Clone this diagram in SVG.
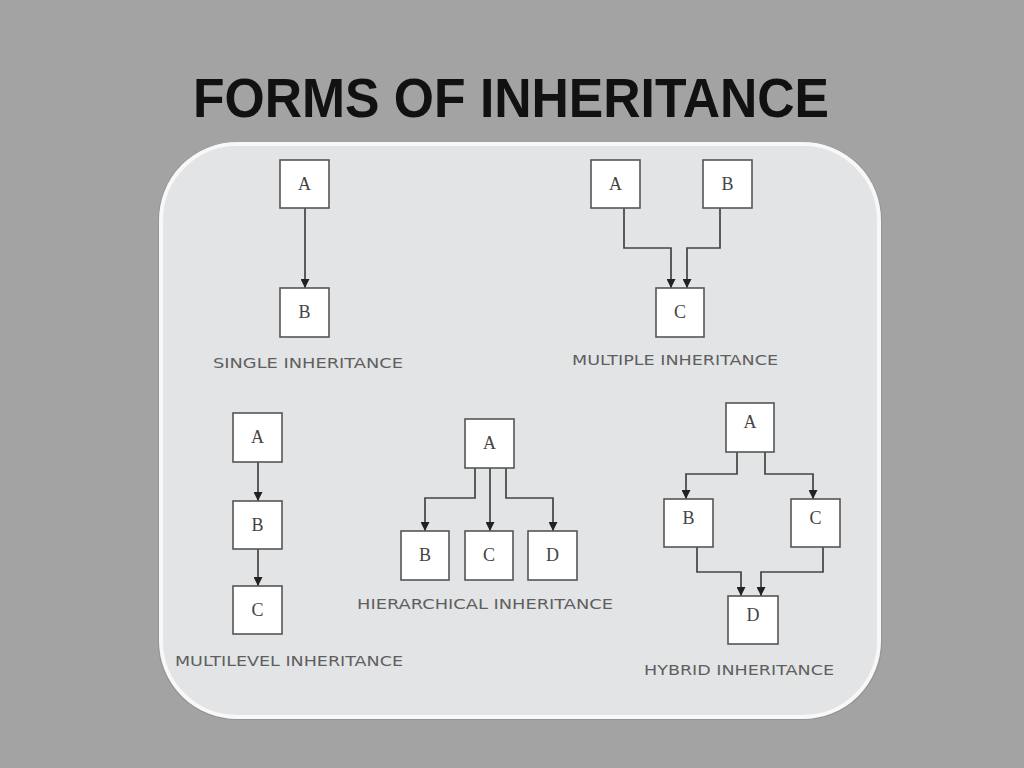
<svg xmlns="http://www.w3.org/2000/svg" width="1024" height="768" viewBox="0 0 1024 768">
<defs>
<style>
.bx{fill:#ffffff;stroke:#555;stroke-width:1.6}
.bt{font-family:"Liberation Serif","Times New Roman",serif;font-size:18px;fill:#444;text-anchor:middle}
.cn{fill:none;stroke:#444;stroke-width:1.7}
.lb{font-family:"DejaVu Sans",Verdana,sans-serif;font-size:14px;fill:#5f5f5f}
</style>
<marker id="ar" viewBox="0 0 10 10" refX="10" refY="5" markerWidth="9" markerHeight="9" markerUnits="userSpaceOnUse" orient="auto">
<path d="M0,0 L10,5 L0,10 z" fill="#222"/>
</marker>
</defs>
<rect x="0" y="0" width="1024" height="768" fill="#a3a3a3"/>
<text x="511" y="117" font-family="Liberation Sans, Arial, sans-serif" font-weight="bold" font-size="55" fill="#111" text-anchor="middle" textLength="636" lengthAdjust="spacingAndGlyphs">FORMS OF INHERITANCE</text>
<rect x="158" y="142" width="724" height="578" rx="78" ry="78" fill="#8a8a8a" opacity="0.6"/>
<rect x="161" y="144" width="718" height="573" rx="76" ry="76" fill="#e2e4e6" stroke="#f8f8f8" stroke-width="4"/>

<g id="connectors">
<path class="cn" d="M305,208 V288" marker-end="url(#ar)"/>
<path class="cn" d="M624,208 V248 H671 V288" marker-end="url(#ar)"/>
<path class="cn" d="M720,208 V248 H687 V288" marker-end="url(#ar)"/>
<path class="cn" d="M258,462 V501" marker-end="url(#ar)"/>
<path class="cn" d="M258,549 V586" marker-end="url(#ar)"/>
<path class="cn" d="M475,468 V498 H425 V531" marker-end="url(#ar)"/>
<path class="cn" d="M490,468 V531" marker-end="url(#ar)"/>
<path class="cn" d="M506,468 V498 H553 V531" marker-end="url(#ar)"/>
<path class="cn" d="M737,452 V474 H686 V499" marker-end="url(#ar)"/>
<path class="cn" d="M765,452 V474 H813 V499" marker-end="url(#ar)"/>
<path class="cn" d="M697,547 V572 H741 V596" marker-end="url(#ar)"/>
<path class="cn" d="M823,547 V572 H761 V596" marker-end="url(#ar)"/>
</g>

<g id="single-a"><rect class="bx" x="280" y="160" width="49" height="48"/><text class="bt" x="304.5" y="190">A</text></g>
<g id="single-b"><rect class="bx" x="280" y="288" width="49" height="49"/><text class="bt" x="304.5" y="318">B</text></g>
<text class="lb" x="213" y="368" textLength="190" lengthAdjust="spacingAndGlyphs">SINGLE INHERITANCE</text>

<g id="multiple-a"><rect class="bx" x="591" y="160" width="49" height="48"/><text class="bt" x="615.5" y="190">A</text></g>
<g id="multiple-b"><rect class="bx" x="703" y="160" width="49" height="48"/><text class="bt" x="727.5" y="190">B</text></g>
<g id="multiple-c"><rect class="bx" x="656" y="288" width="48" height="49"/><text class="bt" x="680" y="318">C</text></g>
<text class="lb" x="572" y="365" textLength="206" lengthAdjust="spacingAndGlyphs">MULTIPLE INHERITANCE</text>

<g id="multilevel-a"><rect class="bx" x="233" y="413" width="49" height="49"/><text class="bt" x="257.5" y="443">A</text></g>
<g id="multilevel-b"><rect class="bx" x="233" y="501" width="49" height="48"/><text class="bt" x="257.5" y="531">B</text></g>
<g id="multilevel-c"><rect class="bx" x="233" y="586" width="49" height="48"/><text class="bt" x="257.5" y="616">C</text></g>
<text class="lb" x="175" y="666" textLength="228" lengthAdjust="spacingAndGlyphs">MULTILEVEL INHERITANCE</text>

<g id="hier-a"><rect class="bx" x="465" y="419" width="49" height="49"/><text class="bt" x="489.5" y="449">A</text></g>
<g id="hier-b"><rect class="bx" x="401" y="531" width="48" height="49"/><text class="bt" x="425" y="561">B</text></g>
<g id="hier-c"><rect class="bx" x="465" y="531" width="48" height="49"/><text class="bt" x="489" y="561">C</text></g>
<g id="hier-d"><rect class="bx" x="528" y="531" width="49" height="49"/><text class="bt" x="552.5" y="561">D</text></g>
<text class="lb" x="357" y="609" textLength="256" lengthAdjust="spacingAndGlyphs">HIERARCHICAL INHERITANCE</text>

<g id="hybrid-a"><rect class="bx" x="726" y="403" width="48" height="49"/><text class="bt" x="750" y="428">A</text></g>
<g id="hybrid-b"><rect class="bx" x="664" y="499" width="49" height="48"/><text class="bt" x="688.5" y="524">B</text></g>
<g id="hybrid-c"><rect class="bx" x="791" y="499" width="49" height="48"/><text class="bt" x="815.5" y="524">C</text></g>
<g id="hybrid-d"><rect class="bx" x="728" y="596" width="50" height="48"/><text class="bt" x="753" y="621">D</text></g>
<text class="lb" x="644" y="675" textLength="190" lengthAdjust="spacingAndGlyphs">HYBRID INHERITANCE</text>
</svg>
